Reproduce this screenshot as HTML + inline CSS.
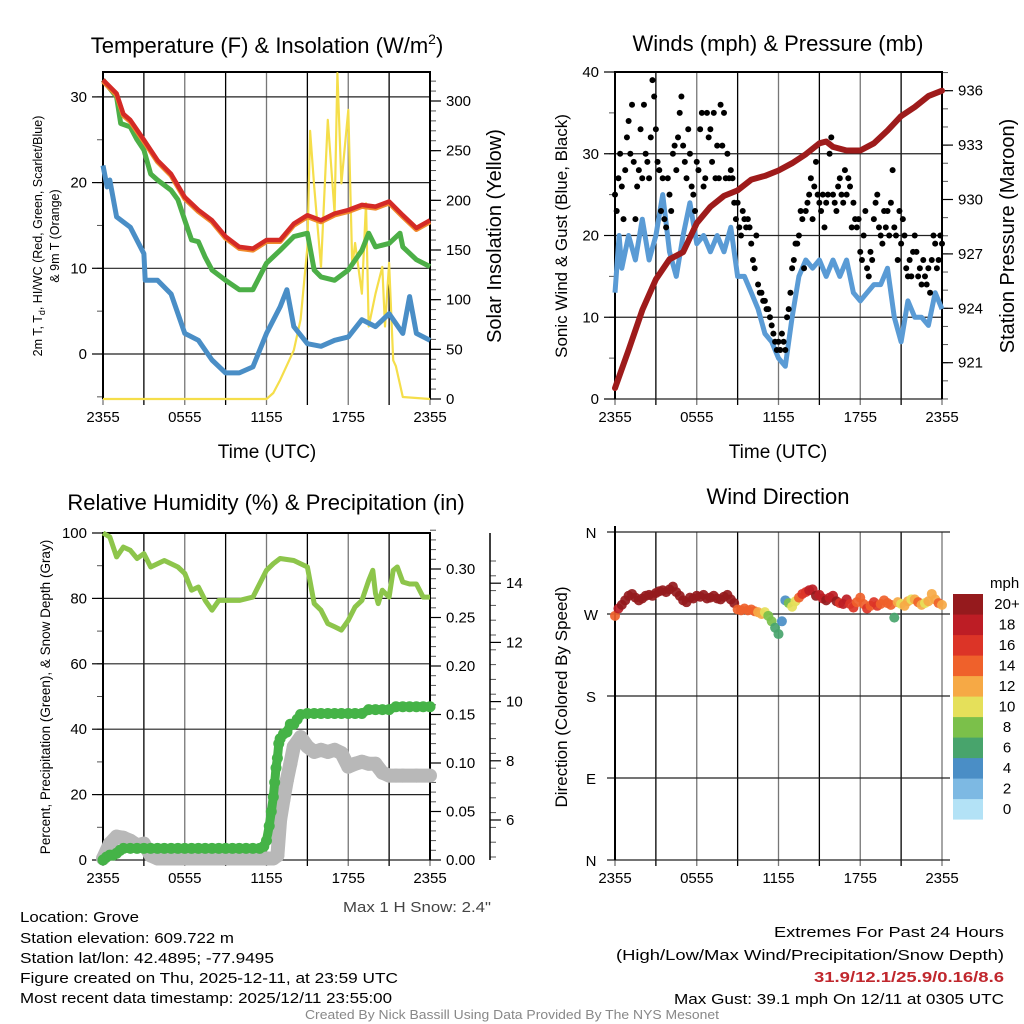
<!DOCTYPE html>
<html><head><meta charset="utf-8">
<style>
html,body{margin:0;padding:0;background:#fff;}
svg{display:block;font-family:"Liberation Sans",sans-serif;}
</style></head>
<body>
<svg id="chart" width="1024" height="1024" viewBox="0 0 1024 1024" xmlns="http://www.w3.org/2000/svg">
<rect width="1024" height="1024" fill="#fff"/>
<g id="tl"></g>
<g id="tr"></g>
<g id="bl"></g>
<g id="br"></g>

<text x="267" y="53" font-size="22" text-anchor="middle">Temperature (F) &amp; Insolation (W/m<tspan font-size="14" dy="-9">2</tspan><tspan dy="9">)</tspan></text>
<text x="778" y="51" font-size="22" text-anchor="middle">Winds (mph) &amp; Pressure (mb)</text>
<text x="266" y="510" font-size="22" text-anchor="middle">Relative Humidity (%) &amp; Precipitation (in)</text>
<text x="778" y="504" font-size="22" text-anchor="middle">Wind Direction</text>

<text x="267" y="458" font-size="19" text-anchor="middle">Time (UTC)</text>
<text x="778" y="458" font-size="19" text-anchor="middle">Time (UTC)</text>

<text transform="translate(42,236) rotate(-90)" font-size="12.5" text-anchor="middle">2m T, T<tspan font-size="9" dy="3">d</tspan><tspan dy="-3">, HI/WC (Red, Green, Scarlet/Blue)</tspan></text>
<text transform="translate(59,236) rotate(-90)" font-size="12.5" text-anchor="middle">&amp; 9m T (Orange)</text>
<text transform="translate(501,236) rotate(-90)" font-size="20" text-anchor="middle">Solar Insolation (Yellow)</text>
<text transform="translate(567,236) rotate(-90)" font-size="17" text-anchor="middle">Sonic Wind &amp; Gust (Blue, Black)</text>
<text transform="translate(1014,236) rotate(-90)" font-size="20" text-anchor="middle">Station Pressure (Maroon)</text>
<text transform="translate(50,697) rotate(-90)" font-size="13.5" text-anchor="middle">Percent, Precipitation (Green), &amp; Snow Depth (Gray)</text>
<text transform="translate(567,697) rotate(-90)" font-size="17" text-anchor="middle">Direction (Colored By Speed)</text>

<text x="491" y="912" font-size="15" fill="#444" text-anchor="end" textLength="148" lengthAdjust="spacingAndGlyphs">Max 1 H Snow: 2.4"</text>
<g font-size="15">
<text x="20" y="922" textLength="119" lengthAdjust="spacingAndGlyphs">Location: Grove</text>
<text x="20" y="943" textLength="214" lengthAdjust="spacingAndGlyphs">Station elevation: 609.722 m</text>
<text x="20" y="963" textLength="254" lengthAdjust="spacingAndGlyphs">Station lat/lon: 42.4895; -77.9495</text>
<text x="20" y="983" textLength="378" lengthAdjust="spacingAndGlyphs">Figure created on Thu, 2025-12-11, at 23:59 UTC</text>
<text x="20" y="1003" textLength="372" lengthAdjust="spacingAndGlyphs">Most recent data timestamp: 2025/12/11 23:55:00</text>
</g>
<g font-size="15" text-anchor="end">
<text x="1004" y="937" textLength="230" lengthAdjust="spacingAndGlyphs">Extremes For Past 24 Hours</text>
<text x="1004" y="960" textLength="388" lengthAdjust="spacingAndGlyphs">(High/Low/Max Wind/Precipitation/Snow Depth)</text>
<text x="1004" y="982" fill="#c0272d" font-weight="bold" textLength="190" lengthAdjust="spacingAndGlyphs">31.9/12.1/25.9/0.16/8.6</text>
<text x="1004" y="1004" textLength="330" lengthAdjust="spacingAndGlyphs">Max Gust: 39.1 mph On 12/11 at 0305 UTC</text>
</g>
<text x="512" y="1019" font-size="12.5" fill="#888" text-anchor="middle" textLength="414" lengthAdjust="spacingAndGlyphs">Created By Nick Bassill Using Data Provided By The NYS Mesonet</text>
</svg>
<script>
// ---------- DATA ----------
const xLabels = ["2355","0555","1155","1755","2355"];
const tempHours = [0,1,1.5,2,3,4,5,6,7,8,9,10,11,12,13,14,15,16,17,18,19,20,21,22,23,24];
const tempRed = [32,30.4,28,27.3,25,22.6,21,18.3,16.8,15.6,13.7,12.5,12.3,13.3,13.3,15.2,16.2,15.6,16.4,16.8,17.4,17.2,17.8,16.2,14.7,15.6];
const greenHours = [0,1,1.3,2,2.5,3,3.5,4,5,5.5,6,6.5,7,7.5,8,9,10,11,12,13,14,15,15.5,16,17,18,19,19.5,20,21,21.8,22,23,24];
const tempGreen = [32,30,26.9,26.5,25,23.8,21,20.3,19.1,18,15.6,13.3,13.1,11.3,9.8,8.6,7.5,7.5,10.6,12.1,13.7,14.1,9.8,9,8.6,9.8,12.1,14.1,12.5,12.9,14.1,12.5,11,10.2];
const blueHours = [0,0.3,0.5,1,2,3,3.1,4,5,6,7,8,9,10,11,12,13,13.5,14,15,16,17,18,19,20,21,22,22.5,23,24];
const tempBlue = [22,19.5,20.3,16,14.8,11.7,8.6,8.6,7,2.4,1.6,-0.7,-2.2,-2.2,-1.5,2.4,5.5,7.5,3.2,1.2,0.9,1.6,2,4,3.2,4.7,2.4,6.7,2.4,1.6];
const solarHours = [0,12,12.5,13,14,14.5,15,15.2,15.5,16,16.5,17,17.2,17.5,18,18.3,18.5,19,19.3,19.5,20,20.5,20.7,21,21.3,21.5,22,24];
const solar = [0,0,6,19,49,80,153,270,214,133,281,187,328,217,291,133,157,106,197,73,106,133,73,137,39,33,2,0];
const windHours = [0,0.3,0.5,1,1.5,2,2.5,3,3.5,4,4.5,5,5.5,6,6.5,7,7.5,8,8.5,9,9.5,10,10.5,11,11.5,12,12.5,13,13.5,14,14.5,15,15.5,16,16.5,17,17.5,18,18.5,19,19.5,20,20.5,21,21.5,22,22.5,23,23.5,24];
const windSpeed = [13,20,16,20,17,22,17,20,25,18,15,20,24,19,20,18,20,18,21,15,15,13,11,8,7,5,4,10,15,17,16,17,15,17,15,17,13,12,13,14,14,16,10,7,12,10,10,9,13,11];
// gusts: 8 samples per hour, 0..24h
const gusts = [25,23,27,30,26,22,28,32, 34,30,36,29,22,26,28,33, 27,36,30,29,27,32,39,37, 33,29,28,23,27,22,21,27,
  25,23,30,31,28,32,35,37, 31,29,27,33,30,26,25,23, 29,28,33,35,26,27,35,32, 33,29,35,27,31,27,36,31,
  35,27,30,27,28,27,24,22, 24,21,20,23,22,21,22,21, 19,17,16,20,14,13,13,12, 12,11,11,10,9,8,7,6,
  7,6,8,7,6,10,11,13, 16,17,19,19,20,23,22,16, 23,24,25,27,22,26,29,25, 24,23,25,21,24,25,30,32,
  25,24,23,26,27,25,24,28, 25,27,26,21,24,22,21,22, 18,17,20,23,16,15,18,17, 22,24,25,21,20,19,23,21,
  23,20,24,28,21,20,17,23, 19,22,20,16,15,17,15,18, 20,18,15,16,14,17,15,14, 16,13,17,20,19,16,17,20, 19];
const presHours = [0,1,2,3,4,5,6,7,8,9,10,11,12,13,14,15,15.5,16,17,18,19,20,21,22,23,24];
const pressure = [919.6,921.7,923.9,925.6,926.7,927.1,928.7,929.6,930.2,930.5,931.1,931.3,931.6,932.0,932.5,933.1,933.2,932.9,932.7,932.7,933.1,933.8,934.6,935.1,935.7,936.0];
const rhHours = [0,0.5,1,1.5,2,2.5,3,3.5,4,4.5,5,5.5,6,6.5,7,7.5,8,8.5,9,10,11,12,12.5,13,14,15,15.5,16,16.5,17,17.5,18,18.5,19,19.5,19.8,20,20.2,20.5,21,21.3,21.6,22,22.5,23,23.5,24];
const rh = [100,98.8,92.7,95.7,94.7,92.2,93.7,89.6,90.6,91.6,90.6,89.6,87.6,82.5,83.5,79.4,76.4,79.4,79.4,79.4,80.4,88.6,90.6,92.2,91.6,89.6,78.4,76.4,72.3,71.3,70.3,73.3,77.4,79.4,85.5,88.6,81.5,78.4,82.5,80.4,88.6,89.6,85,84.4,84.4,80.4,80.4];
const precipHours = [0,0.25,0.5,0.75,1,1.25,1.5,2,2.5,3,3.5,4,4.5,5,5.5,6,6.5,7,7.5,8,8.5,9,9.5,10,10.5,11,11.5,11.8,12,12.2,12.35,12.5,12.6,12.7,12.8,12.9,13,13.25,13.5,13.75,14,14.25,14.5,15,15.5,16,16.5,17,17.5,18,18.5,19,19.5,20,20.5,21,21.5,22,22.5,23,23.5,24];
const precip = [0,0.003,0.005,0.005,0.007,0.01,0.012,0.012,0.012,0.012,0.012,0.012,0.012,0.012,0.012,0.012,0.012,0.012,0.012,0.012,0.012,0.012,0.012,0.012,0.012,0.012,0.012,0.014,0.02,0.035,0.05,0.065,0.08,0.095,0.105,0.12,0.125,0.13,0.132,0.14,0.14,0.145,0.15,0.151,0.151,0.151,0.151,0.151,0.151,0.151,0.151,0.151,0.155,0.155,0.155,0.155,0.158,0.158,0.158,0.158,0.158,0.158];
const snowHours = [0,0.5,1,1.5,2,2.5,3,3.5,4,5,6,7,8,9,10,11,12,12.5,12.8,13,13.25,13.5,13.75,14,14.5,15,15.5,16,16.5,17,17.5,18,18.5,19,19.5,20,20.5,21,21.5,22,23,24];
const snowDepth = [4.7,5.2,5.44,5.4,5.3,5.15,5.2,4.8,4.7,4.7,4.7,4.7,4.7,4.7,4.7,4.7,4.7,4.7,4.8,6.0,6.7,7.35,7.9,8.48,8.8,8.48,8.3,8.37,8.3,8.37,8.26,7.8,7.9,7.97,7.9,7.9,7.6,7.5,7.5,7.5,7.5,7.5];
// direction & speed: 4 samples per hour, 0..24h
const dirDeg = [268,276,280,285, 290,292,288,285, 287,290,291,290, 293,295,296,294, 297,300,294,290,
  285,283,288,287, 290,289,291,287, 288,290,287,286, 289,291,286,282, 275,274,276,274, 275,273,272,270,
  272,268,262,255, 248,262,285,282, 278,284,288,292, 294,296,297,290, 291,287,285,288, 290,284,282,281,
  286,281,277,283, 288,281,276,279, 283,279,281,285, 282,280,266,283, 281,279,284,286, 286,283,280,282,
  284,292,286,282, 280];
const dirSpeed = [13,18,20,21, 21,21,22,22, 22,23,21,22, 22,21,22,21, 22,22,21,22, 21,22,21,22, 22,21,22,21,
  21,22,21,22, 21,21,20,20, 14,14,13,14, 13,14,12,12, 10,8,7,6, 5,4,4,7, 9,10,13,15, 16,17,18,19,
  18,17,19,18, 17,19,16,17, 17,16,15,14, 13,14,15,14, 16,15,13,14, 14,13,6,12, 10,12,11,10, 12,13,11,10,
  12,11,12,13, 11];
const speedBins = ["0","2","4","6","8","10","12","14","16","18","20+"];
const binColors = ["#b3e2f6","#7db9e3","#4a8ec6","#48a46c","#7bc04a","#e5e05a","#f6a945","#ef612b","#dc3427","#bd1d25","#951a1d"];

// ---------- HELPERS ----------
const NS = "http://www.w3.org/2000/svg";
function mk(parent, tag, attrs){const e=document.createElementNS(NS,tag);for(const k in attrs)e.setAttribute(k,attrs[k]);parent.appendChild(e);return e;}
function X(h,x0,x1){return x0+h/24*(x1-x0);}
function pts(hs,vs,x0,x1,fy){return hs.map((h,i)=>X(h,x0,x1).toFixed(1)+","+fy(vs[i]).toFixed(1)).join(" ");}

function timeGrid(g,x0,x1,y0,y1){
  for(let i=0;i<=8;i++){
    const x=x0+i*(x1-x0)/8;
    const ln=mk(g,"line",{x1:x,x2:x,y1:y0,y2:y1+6,stroke:i%2?"#000":"#777","stroke-width":1.3});
    
    
    if(i%2===0){
      const t=mk(g,"text",{x:x,y:y1+23,"font-size":15,"text-anchor":"middle"});
      
      
      t.textContent=xLabels[i/2];
    }
  }
}
function yAxis(g,x,side,vals,fy,fmt,minors,gridX0,gridX1){
  for(const v of minors){
    const m=mk(g,"line",{x1:x,x2:x+side*6,y1:fy(v),y2:fy(v),stroke:"#555","stroke-width":1});
    
    
  }
  vals.forEach(v=>{
    const y=fy(v);
    if(gridX0!==undefined){
      const gl=mk(g,"line",{x1:gridX0,x2:gridX1,y1:y,y2:y,stroke:"#222","stroke-width":1.2});
      
      
    }
    const tk=mk(g,"line",{x1:x,x2:x+side*11,y1:y,y2:y,stroke:"#000","stroke-width":1.2});
    
    
    const t=mk(g,"text",{x:x+side*16,y:y+5,"font-size":15,"text-anchor":side<0?"end":"start"});
    
    
    t.textContent=fmt(v);
  });
}
function range(a,b,s){const r=[];for(let v=a;v<=b+1e-9;v+=s)r.push(+v.toFixed(4));return r;}

// ---------- TEMPERATURE PANEL ----------
(function(){
  const g=document.getElementById("tl"); const x0=103,x1=430,y0=72,y1=399;
  const yL=v=>354-v*8.57, yR=v=>399-v*298/300;
  timeGrid(g,x0,x1,y0,y1);
  yAxis(g,x0,-1,[0,10,20,30],yL,v=>v,range(-5,30,5),x0,x1);
  yAxis(g,x1,1,[0,50,100,150,200,250,300],yR,v=>v,range(0,320,10));
  const fr=mk(g,"path",{d:`M${x0},${y1} V${y0} H${x1} V${y1}`,fill:"none",stroke:"#000","stroke-width":2});
  
  
  const so=mk(g,"polyline",{points:pts(solarHours,solar,x0,x1,yR),fill:"none",stroke:"#f5de4a","stroke-width":2.2,"stroke-linejoin":"round"});
  
  
  const bl=mk(g,"polyline",{points:pts(blueHours,tempBlue,x0,x1,yL),fill:"none",stroke:"#4a8ec6","stroke-width":5,"stroke-linejoin":"round"});
  
  
  const gr=mk(g,"polyline",{points:pts(greenHours,tempGreen,x0,x1,yL),fill:"none",stroke:"#4caf47","stroke-width":5,"stroke-linejoin":"round"});
  
  
  const or=mk(g,"polyline",{points:pts(tempHours,tempRed,x0,x1,v=>yL(v)+1.5),fill:"none",stroke:"#f08a2c","stroke-width":5,"stroke-linejoin":"round"});
  
  
  const rd=mk(g,"polyline",{points:pts(tempHours,tempRed,x0,x1,yL),fill:"none",stroke:"#d42a26","stroke-width":4.5,"stroke-linejoin":"round"});
  
  
})();

// ---------- WINDS PANEL ----------
(function(){
  const g=document.getElementById("tr"); const x0=615,x1=942,y0=72,y1=399;
  const yW=v=>399-v*327/40, yP=v=>362.7-(v-921)*272/15;
  timeGrid(g,x0,x1,y0,y1);
  yAxis(g,x0,-1,[0,10,20,30,40],yW,v=>v,range(0,40,5),x0,x1);
  yAxis(g,x1,1,[921,924,927,930,933,936],yP,v=>v,range(919,937,1));
  const fr=mk(g,"path",{d:`M${x0},${y1} V${y0} H${x1} V${y1}`,fill:"none",stroke:"#000","stroke-width":2});
  
  
  const w=mk(g,"polyline",{points:pts(windHours,windSpeed,x0,x1,yW),fill:"none",stroke:"#5a9bd5","stroke-width":5,"stroke-linejoin":"round"});
  
  
  gusts.forEach((v,i)=>{
    const c=mk(g,"circle",{cx:X(i*24/(gusts.length-1),x0,x1),cy:yW(v),r:3,fill:"#000"});
    
    
  });
  const p=mk(g,"polyline",{points:pts(presHours,pressure,x0,x1,yP),fill:"none",stroke:"#9e1b1b","stroke-width":6,"stroke-linejoin":"round","stroke-linecap":"round"});
  
  
})();

// ---------- HUMIDITY PANEL ----------
(function(){
  const g=document.getElementById("bl"); const x0=103,x1=430,y0=533,y1=860;
  const yRH=v=>860-v*3.27, yPr=v=>860-v*291/0.30, ySn=v=>820-(v-6)*29.6;
  timeGrid(g,x0,x1,y0,y1);
  yAxis(g,x0,-1,[0,20,40,60,80,100],yRH,v=>v,range(0,100,10),x0,x1);
  yAxis(g,x1,1,[0,0.05,0.10,0.15,0.20,0.25,0.30],yPr,v=>v.toFixed(2),range(0,0.34,0.01));
  yAxis(g,490,1,[6,8,10,12,14],ySn,v=>v,range(4.75,15,0.5));
  const ax3=mk(g,"line",{x1:490,x2:490,y1:533,y2:860,stroke:"#000","stroke-width":1.5});
  
  
  const fr=mk(g,"path",{d:`M${x0},${y1} V${y0} H${x1} V${y1}`,fill:"none",stroke:"#000","stroke-width":2});
  
  
  snowDepth.forEach((v,i)=>{
    const c=mk(g,"circle",{cx:X(snowHours[i],x0,x1),cy:ySn(v),r:7,fill:"#b8b8b8"});
    
    
  });
  const sl=mk(g,"polyline",{points:pts(snowHours,snowDepth,x0,x1,ySn),fill:"none",stroke:"#b8b8b8","stroke-width":14,"stroke-linejoin":"round"});
  
  
  const pl=mk(g,"polyline",{points:pts(precipHours,precip,x0,x1,yPr),fill:"none",stroke:"#45b347","stroke-width":9,"stroke-linejoin":"round"});
  
  
  precip.forEach((v,i)=>{
    const c=mk(g,"circle",{cx:X(precipHours[i],x0,x1),cy:yPr(v),r:5.5,fill:"#45b347"});
    
    
  });
  const r=mk(g,"polyline",{points:pts(rhHours,rh,x0,x1,yRH),fill:"none",stroke:"#8dc54b","stroke-width":5,"stroke-linejoin":"round"});
  
  
})();

// ---------- WIND DIRECTION PANEL ----------
(function(){
  const g=document.getElementById("br"); const x0=615,x1=942,y0=532,y1=860;
  const yD=d=>860-d/360*328;
  timeGrid(g,x0,x1,y0,y1);
  const names=["N","E","S","W","N"];
  [0,90,180,270,360].forEach((d,i)=>{
    const gl=mk(g,"line",{x1:x0-8,x2:950,y1:yD(d),y2:yD(d),stroke:"#222","stroke-width":1.2});
    
    
    const t=mk(g,"text",{x:x0-24,y:yD(d)+6,"font-size":15,"text-anchor":"middle"});
    
    
    t.textContent=names[i];
  });
  const ax=mk(g,"line",{x1:x0,x2:x0,y1:y0-6,y2:y1,stroke:"#000","stroke-width":2});
  
  
  const n=dirDeg.length;
  dirDeg.forEach((d,i)=>{
    const s=dirSpeed[Math.round(i*(dirSpeed.length-1)/(n-1))];
    const b=Math.max(0,Math.min(10,Math.round(s/2)));
    const c=mk(g,"circle",{cx:X(i*24/(n-1),x0,x1),cy:yD(d),r:5,fill:binColors[b],"fill-opacity":0.92});
    
    
  });
  const lt=mk(g,"text",{x:990,y:588,"font-size":15});
  
  
  lt.textContent="mph";
  for(let k=0;k<11;k++){
    const y=594+(10-k)*20.5;
    const rc=mk(g,"rect",{x:953,y:y,width:30,height:20.6,fill:binColors[k]});
    
    
    const t=mk(g,"text",{x:1007,y:y+15,"font-size":15,"text-anchor":"middle"});
    
    
    t.textContent=speedBins[k];
  }
})();
</script>
</body></html>
